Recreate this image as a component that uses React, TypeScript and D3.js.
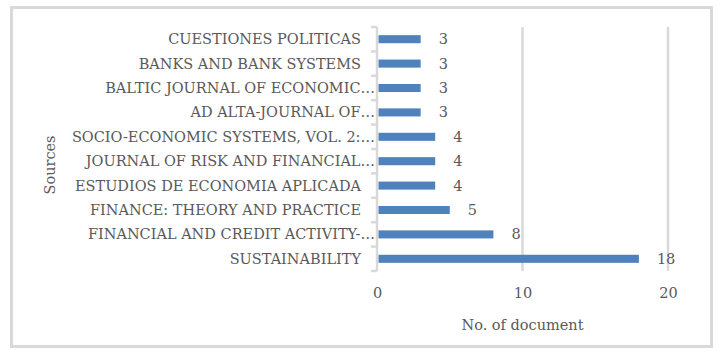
import * as d3 from 'd3'
import { useEffect, useRef } from 'react'

const sources = [
  'CUESTIONES POLITICAS',
  'BANKS AND BANK SYSTEMS',
  'BALTIC JOURNAL OF ECONOMIC…',
  'AD ALTA-JOURNAL OF…',
  'SOCIO-ECONOMIC SYSTEMS, VOL. 2:…',
  'JOURNAL OF RISK AND FINANCIAL…',
  'ESTUDIOS DE ECONOMIA APLICADA',
  'FINANCE: THEORY AND PRACTICE',
  'FINANCIAL AND CREDIT ACTIVITY-…',
  'SUSTAINABILITY',
]
const documents = [3, 3, 3, 3, 4, 4, 4, 5, 8, 18]
const xTicks = [0, 10, 20]

const W = 717
const H = 352
const plot = { left: 377, right: 668, top: 27, bottom: 271 }
const font = '"DejaVu Serif", serif'
const fs = 14.5
const textColor = '#595959'
const gridColor = '#D9D9D9'

export default function App() {
  const axisRef = useRef<SVGGElement>(null)

  const x = d3.scaleLinear().domain([0, 20]).range([plot.left, plot.right])
  const y = d3
    .scaleBand()
    .domain(sources)
    .range([plot.top, plot.bottom])
    .paddingInner(0.67)
    .paddingOuter(0.335)
  const band = d3.scaleBand().domain(sources).range([plot.top, plot.bottom])

  useEffect(() => {
    if (!axisRef.current) return
    const g = d3.select(axisRef.current)
    g.selectAll('*').remove()
    g.call(
      d3
        .axisBottom(x)
        .tickValues(xTicks)
        .tickSize(0)
        .tickPadding(17)
        .tickFormat(d3.format('d')),
    )
    g.select('.domain').remove()
    g.selectAll('text')
      .attr('fill', textColor)
      .style('font-family', font)
      .style('font-size', `${fs}px`)
  }, [])

  return (
    <svg width={W} height={H} style={{ position: 'absolute', left: 0, top: 0 }}>
      <rect x={0} y={0} width={W} height={H} fill="white" />
      <rect
        x={11.5}
        y={7.5}
        width={700}
        height={339}
        fill="none"
        stroke={gridColor}
        strokeWidth={3}
      />
      {/* gridlines */}
      {xTicks
        .filter((t) => t > 0)
        .map((t) => (
          <line
            key={t}
            x1={x(t)}
            x2={x(t)}
            y1={plot.top}
            y2={plot.bottom}
            stroke={gridColor}
            strokeWidth={2.5}
          />
        ))}
      {/* category axis with bracket ticks */}
      <line
        x1={x(0)}
        x2={x(0)}
        y1={plot.top}
        y2={plot.bottom}
        stroke={gridColor}
        strokeWidth={2.5}
      />
      {[...sources.map((s) => band(s)!), plot.bottom].map((yy, i) => (
        <line
          key={i}
          x1={x(0) - 6}
          x2={x(0)}
          y1={yy}
          y2={yy}
          stroke={gridColor}
          strokeWidth={2.5}
        />
      ))}
      {sources.map((s, i) => (
        <g key={s}>
          <rect
            x={x(0) + 1.5}
            y={y(s)}
            width={x(documents[i]) - x(0) - 1.5}
            height={y.bandwidth()}
            fill="#4F81BD"
          />
          <text
            x={x(documents[i]) + 18}
            y={y(s)! + y.bandwidth() / 2}
            dy="0.35em"
            fill={textColor}
            fontFamily={font}
            fontSize={fs}
          >
            {documents[i]}
          </text>
          <text
            x={s.endsWith('…') ? x(0) - 2 : x(0) - 16}
            y={y(s)! + y.bandwidth() / 2}
            dy="0.35em"
            textAnchor="end"
            fill={textColor}
            fontFamily={font}
            fontSize={fs}
          >
            {s}
          </text>
        </g>
      ))}
      <g ref={axisRef} transform={`translate(0, ${plot.bottom})`} />
      <text
        x={x(10)}
        y={325}
        dy="0.35em"
        textAnchor="middle"
        fill={textColor}
        fontFamily={font}
        fontSize={fs}
      >
        No. of document
      </text>
      <text
        transform={`translate(50, 165) rotate(-90)`}
        dy="0.35em"
        textAnchor="middle"
        fill={textColor}
        fontFamily={font}
        fontSize={fs}
      >
        Sources
      </text>
    </svg>
  )
}
